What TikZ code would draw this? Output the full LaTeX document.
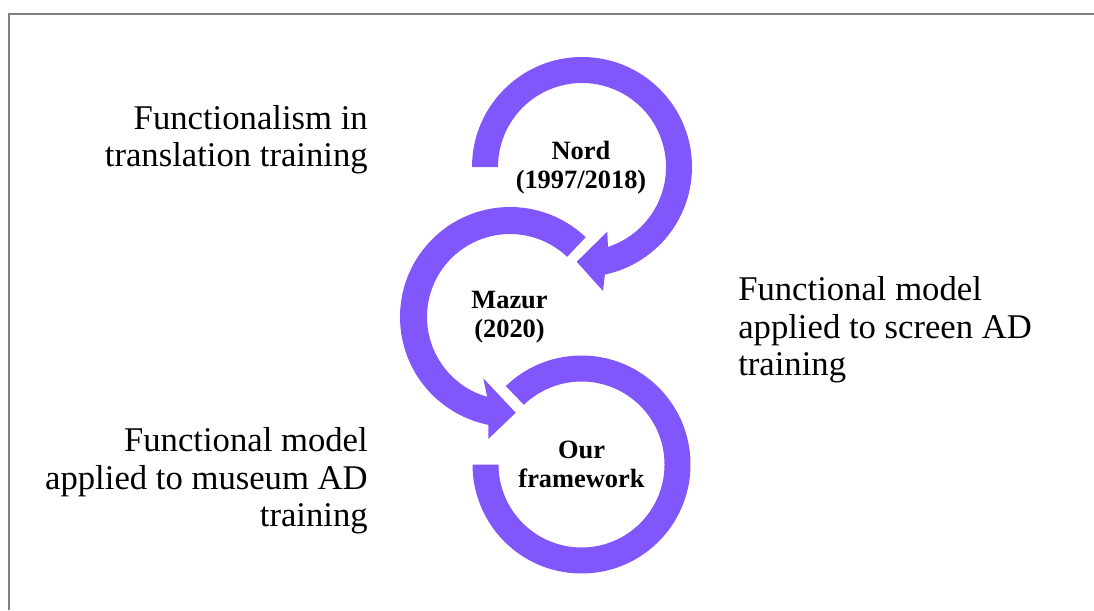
\documentclass[tikz,border=0pt]{standalone}
\usepackage{fontspec}
\setmainfont{Liberation Serif}
\usetikzlibrary{calc}
\definecolor{ringpurple}{RGB}{129,86,250}
\definecolor{framegray}{RGB}{128,128,128}
\begin{document}
\begin{tikzpicture}[x=0.75pt,y=0.75pt,
  ring/.style={fill=ringpurple},
  side/.style={inner sep=0pt,font=\fontsize{26}{28}\selectfont},
  hub/.style={inner sep=0pt,align=center,font=\bfseries\fontsize{19.8}{21.7}\selectfont},
  frameline/.style={draw=framegray,line width=1.2pt}]
\useasboundingbox (0,-610) rectangle (1094,0);
% frame (top and left edges visible)
\coordinate (fbl) at (9,-610);
\coordinate (ftl) at (9,-14);
\coordinate (ftr) at (1094,-14);
\draw[frameline] (fbl) -- (ftl) -- (ftr);
% ring centres
\coordinate (c1) at (582,-167);
\coordinate (c2) at (510,-317);
\coordinate (c3) at (581.5,-464.5);
% ring 1 (Nord) with arrowhead
\coordinate (a1lo) at (603,-291);
\coordinate (a1tip) at (576.7,-261.7);
\coordinate (a1up) at (607.3,-231.7);
\fill[ring] ($(c1)+(180:110)$) arc[start angle=180,end angle=-78,radius=110]
  -- (a1lo) -- (a1tip) -- (a1up)
  -- ($(c1)+(-72:84)$) arc[start angle=-72,end angle=180,radius=84] -- cycle;
% ring 2 (Mazur) with arrowhead
\coordinate (a2lo) at (488.3,-439);
\coordinate (a2tip) at (515.7,-412.7);
\coordinate (a2up) at (483.3,-378.3);
\fill[ring] ($(c2)+(46.5:110)$) arc[start angle=46.5,end angle=258.6,radius=110]
  -- (a2lo) -- (a2tip) -- (a2up)
  -- ($(c2)+(254:83)$) arc[start angle=254,end angle=46.5,radius=83] -- cycle;
% ring 3 (Our framework)
\fill[ring] ($(c3)+(134:109)$) arc[start angle=134,end angle=-180,radius=109]
  -- ($(c3)+(180:83)$) arc[start angle=-180,end angle=134,radius=83] -- cycle;
% hub texts
\node[hub] (nord) at (581,-168) {Nord\\(1997/2018)};
\node[hub] (mazur) at (509.5,-317.5) {Mazur\\(2020)};
\node[hub] (ours) at (581.5,-464.5) {Our\\framework};
% side labels
\node[side,anchor=east,align=right] (lblA) at (368,-140) {Functionalism in\\translation training};
\node[side,anchor=west,align=left] (lblB) at (738,-330) {Functional model\\applied to screen AD\\training};
\node[side,anchor=east,align=right] (lblC) at (368,-481) {Functional model\\applied to museum AD\\training};
\end{tikzpicture}
\end{document}
